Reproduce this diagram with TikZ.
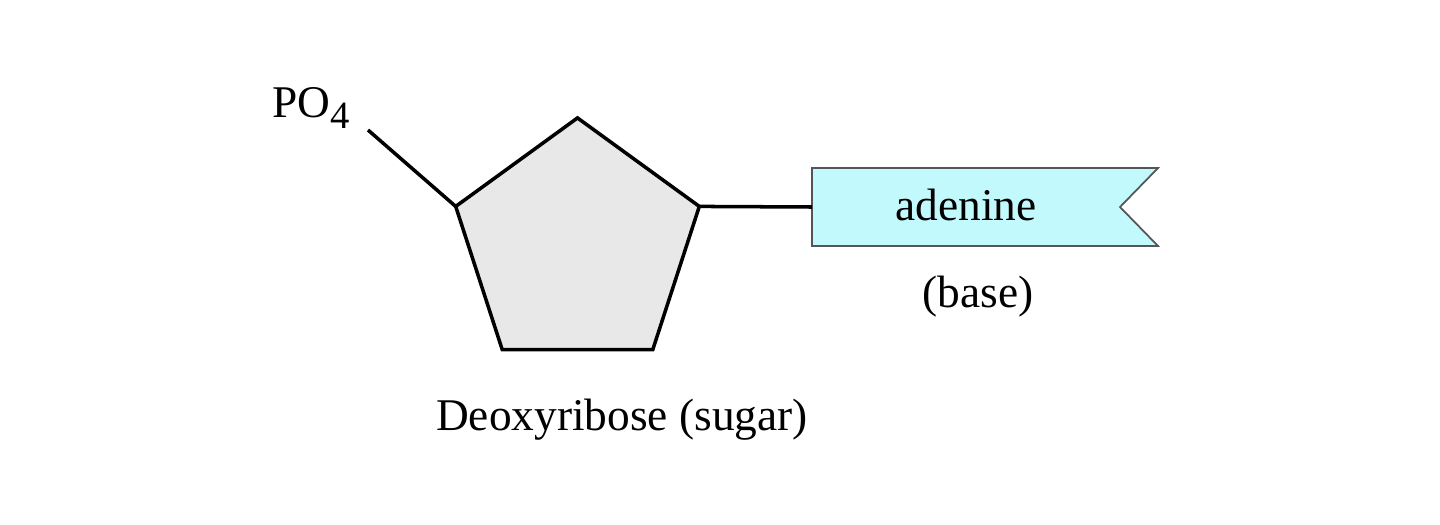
\documentclass[tikz,border=0pt]{standalone}
\usepackage{fontspec}
\setmainfont{Liberation Serif}
\usetikzlibrary{shapes.geometric}
\definecolor{sugargray}{HTML}{E8E8E8}
\definecolor{basecyan}{HTML}{C2F9FC}
\definecolor{edgegray}{HTML}{555555}
\tikzset{
  bond/.style={line width=1pt,draw=black},
  label/.style={font=\fontsize{12.9}{15}\selectfont,inner sep=0pt},
  sugar/.style={regular polygon,regular polygon sides=5,minimum size=2.56cm,
                inner sep=0pt,outer sep=0pt,draw=black,line width=1pt,fill=sugargray},
  banner/.style={draw=edgegray,line width=0.5pt,fill=basecyan}
}
\begin{document}
\begin{tikzpicture}[x=0.01cm,y=-0.01cm]
  \useasboundingbox (0,0) rectangle (1440,524);
  % sugar ring
  \node[sugar] (ring) at (577.5,246) {};
  % base flag
  \coordinate (flagL) at (812,207);
  \draw[banner] (812,168) -- (1158,168) -- (1120,207) -- (1158,246) -- (812,246) -- cycle;
  \node[label] (base) at (966,205) {adenine};
  \node[label] (basetag) at (978,297) {(base)};
  \node[label] (sugartag) at (622,420) {Deoxyribose (sugar)};
  % phosphate
  \node[label,anchor=base west] (phos) at (272,117) {PO\raisebox{-0.55ex}{\fontsize{11}{12}\selectfont 4}};
  \coordinate (phosend) at (368,130);
  \draw[bond] (phosend) -- (ring.corner 2);
  \draw[bond] (ring.corner 5) -- (flagL);
\end{tikzpicture}
\end{document}
